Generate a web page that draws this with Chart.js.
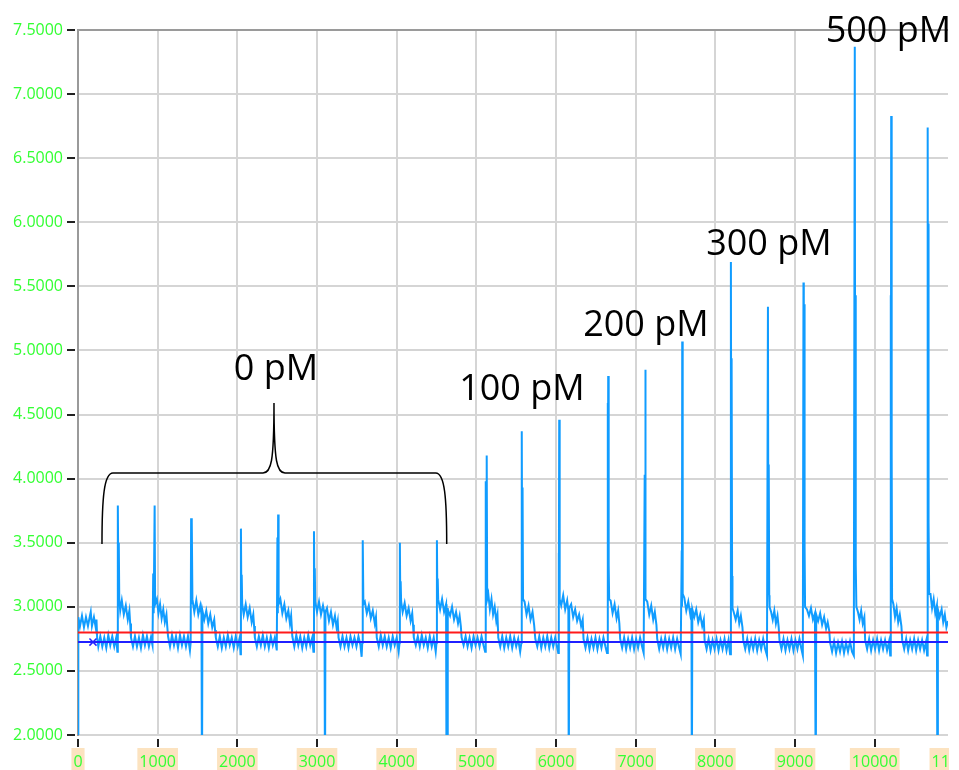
<!DOCTYPE html>
<html>
<head>
<meta charset="utf-8">
<title>Sensor response</title>
<script src="https://cdn.jsdelivr.net/npm/chart.js@4.4.0/dist/chart.umd.min.js"></script>
<style>
  html, body { margin: 0; padding: 0; background: #fff; }
  #wrap { width: 959px; height: 770px; position: relative; }
</style>
</head>
<body>
<div id="wrap"><canvas id="responseChart"></canvas></div>
<script>
// signal trace, [time, response], one block per concentration
var trace0pM = [
  [0,1.90],[4,2.92],[25,2.85],[50,2.93],[75,2.84],[100,2.92],[125,2.85],[150,2.93],[160,2.96],[175,2.85],[200,2.92],[222,2.84],[232,2.90],
  [240,2.76],[255,2.69],[280,2.77],[305,2.69],[330,2.76],[355,2.68],[380,2.78],[405,2.70],[430,2.77],[455,2.69],[480,2.76],[494,2.65],
  [498,2.72],[502,3.79],[508,3.05],[512,3.50],[518,3.06],
  [530,2.97],[550,3.05],[575,2.94],[600,3.01],[625,2.90],[645,2.97],[655,2.87],
  [665,2.76],[690,2.69],[715,2.77],[740,2.69],[765,2.76],[790,2.68],[815,2.78],[840,2.70],[865,2.77],[890,2.69],[915,2.76],[935,2.70],
  [944,3.26],[950,2.95],[962,3.79],[968,3.02],
  [990,3.06],[1010,2.95],[1030,3.02],[1050,2.91],[1070,2.98],[1090,2.88],[1110,2.94],[1120,2.85],
  [1130,2.77],[1155,2.69],[1180,2.78],[1205,2.70],[1230,2.77],[1255,2.68],[1280,2.78],[1305,2.70],[1330,2.77],[1355,2.69],[1380,2.77],[1405,2.66],
  [1414,2.72],[1420,3.69],[1426,3.02],[1430,3.66],[1436,3.06],
  [1460,2.96],[1485,3.05],[1510,2.94],[1535,3.01],[1550,2.94],[1556,1.50],[1562,2.97],[1585,2.90],[1610,2.97],[1635,2.87],[1660,2.94],[1685,2.84],[1710,2.90],[1720,2.82],
  [1730,2.76],[1755,2.69],[1780,2.77],[1805,2.68],[1830,2.76],[1855,2.69],[1880,2.78],[1905,2.70],[1930,2.76],[1955,2.68],[1980,2.77],[2005,2.69],[2030,2.76],[2040,2.63],
  [2045,3.61],[2051,3.03],[2055,3.25],[2061,3.02],
  [2080,2.94],[2105,3.02],[2130,2.92],[2155,2.99],[2180,2.88],[2200,2.94],[2210,2.85],
  [2220,2.76],[2245,2.69],[2270,2.77],[2295,2.70],[2320,2.78],[2345,2.69],[2370,2.76],[2395,2.68],[2420,2.77],[2445,2.70],[2470,2.76],[2495,2.66],
  [2503,3.54],[2508,2.95],[2512,3.72],[2518,3.02],
  [2540,3.06],[2565,2.95],[2590,3.02],[2615,2.91],[2640,2.97],[2660,2.87],[2675,2.93],
  [2690,2.77],[2715,2.69],[2740,2.78],[2765,2.70],[2790,2.77],[2815,2.68],[2840,2.76],[2865,2.69],[2890,2.78],[2915,2.70],[2940,2.76],[2955,2.65],
  [2962,3.59],[2968,3.05],[2972,3.30],[2978,3.04],
  [3000,2.96],[3025,3.04],[3050,2.94],[3075,3.01],[3094,2.95],[3100,1.50],[3106,2.96],[3125,2.99],[3150,2.89],[3175,2.96],[3200,2.86],[3225,2.93],[3245,2.84],[3260,2.89],
  [3270,2.76],[3295,2.69],[3320,2.77],[3345,2.69],[3370,2.76],[3395,2.68],[3420,2.77],[3445,2.70],[3470,2.76],[3495,2.69],[3520,2.77],[3545,2.70],[3560,2.61],
  [3568,2.72],[3572,3.06],[3576,3.52],[3582,3.02],
  [3600,3.04],[3625,2.95],[3650,3.01],[3675,2.91],[3700,2.97],[3725,2.87],[3740,2.92],
  [3750,2.76],[3775,2.69],[3800,2.78],[3825,2.70],[3850,2.77],[3875,2.69],[3900,2.76],[3925,2.68],[3950,2.77],[3975,2.70],[4000,2.76],[4025,2.65],
  [4036,2.72],[4040,3.50],[4046,3.00],[4050,3.20],[4056,3.04],
  [4075,2.96],[4100,3.03],[4125,2.93],[4150,2.99],[4175,2.89],[4195,2.95],[4205,2.86],
  [4215,2.76],[4240,2.70],[4265,2.77],[4290,2.69],[4315,2.78],[4340,2.70],[4365,2.76],[4390,2.68],[4415,2.77],[4440,2.69],[4465,2.76],[4490,2.65],
  [4500,2.72],[4505,3.52],[4511,3.05],[4515,3.22],[4521,3.06],
  [4545,2.98],[4570,3.06],[4595,2.96],[4620,3.02],[4626,1.50],[4632,2.99],[4638,1.50],[4644,2.98],[4670,2.93],[4695,3.00],[4720,2.90],[4745,2.96],[4770,2.87],[4790,2.93],[4805,2.85],
  [4815,2.76],[4840,2.70],[4865,2.77],[4890,2.69],[4915,2.76],[4940,2.68],[4965,2.77],[4990,2.70],[5015,2.76],[5040,2.69],[5065,2.77],[5090,2.70],[5110,2.65]
];

var trace100pM = [
  [5116,2.72],[5120,3.98],[5126,3.26],[5130,4.18],[5136,3.06],
  [5150,3.10],[5170,2.98],[5190,3.06],[5210,2.94],[5230,3.00],[5250,2.89],[5265,2.94],
  [5275,2.76],[5300,2.69],[5325,2.77],[5350,2.68],[5375,2.76],[5400,2.69],[5425,2.77],[5450,2.68],[5475,2.76],[5500,2.69],[5525,2.75],[5550,2.65],
  [5565,2.72],[5570,4.37],[5576,3.09],[5580,3.93],[5586,3.06],
  [5605,3.04],[5630,2.94],[5655,3.01],[5680,2.90],[5705,2.96],[5725,2.86],
  [5740,2.75],[5765,2.69],[5790,2.77],[5815,2.68],[5840,2.76],[5865,2.69],[5890,2.77],[5915,2.68],[5940,2.76],[5965,2.69],[5990,2.76],[6015,2.68],[6028,2.64],
  [6033,3.42],[6037,3.00],[6040,4.46],[6046,3.06],
  [6065,3.01],[6090,3.09],[6115,2.98],[6140,3.05],[6155,2.97],[6160,1.50],[6166,2.99],[6190,3.02],[6215,2.92],[6240,2.98],[6265,2.89],[6290,2.94],[6315,2.85],[6335,2.90],
  [6345,2.75],[6370,2.68],[6395,2.76],[6420,2.67],[6445,2.75],[6470,2.68],[6495,2.76],[6520,2.67],[6545,2.75],[6570,2.68],[6595,2.76],[6620,2.69],[6640,2.64]
];

var trace200pM = [
  [6648,4.59],[6652,3.30],[6655,4.80],[6661,3.33],[6667,3.06],
  [6685,3.05],[6710,2.95],[6735,3.02],[6760,2.91],[6780,2.97],[6795,2.87],
  [6805,2.75],[6830,2.68],[6855,2.76],[6880,2.67],[6905,2.75],[6930,2.68],[6955,2.76],[6980,2.67],[7005,2.75],[7030,2.68],[7055,2.76],[7080,2.69],[7100,2.64],
  [7113,4.03],[7117,3.20],[7120,4.85],[7126,3.06],
  [7145,3.04],[7170,2.94],[7195,3.01],[7220,2.90],[7240,2.96],[7260,2.86],
  [7270,2.75],[7295,2.67],[7320,2.75],[7345,2.68],[7370,2.76],[7395,2.67],[7420,2.75],[7445,2.68],[7470,2.76],[7495,2.67],[7520,2.75],[7545,2.68],[7565,2.63],
  [7578,3.44],[7581,3.00],[7584,5.07],[7590,3.10],
  [7610,3.07],[7635,2.97],[7660,3.04],[7685,2.94],[7700,2.99],[7705,1.50],[7711,2.98],[7735,2.92],[7760,2.98],[7785,2.88],[7810,2.94],[7835,2.85],[7855,2.90],
  [7865,2.74],[7890,2.67],[7915,2.75],[7940,2.66],[7965,2.74],[7990,2.67],[8015,2.75],[8040,2.66],[8065,2.74],[8090,2.67],[8115,2.75],[8140,2.66],[8165,2.74],[8185,2.63]
];

var trace300pM = [
  [8195,5.69],[8201,3.20],[8204,4.94],[8210,3.24],[8215,2.99],
  [8230,2.96],[8255,2.90],[8280,2.97],[8300,2.87],[8320,2.93],[8340,2.84],
  [8350,2.74],[8375,2.67],[8400,2.75],[8425,2.66],[8450,2.74],[8475,2.67],[8500,2.75],[8525,2.66],[8550,2.74],[8575,2.67],[8600,2.75],[8625,2.67],[8648,2.62],
  [8660,5.34],[8666,3.10],[8670,4.11],[8676,3.09],[8680,3.00],
  [8700,2.96],[8720,2.90],[8740,2.97],[8760,2.87],[8780,2.93],[8795,2.84],
  [8805,2.74],[8830,2.67],[8855,2.75],[8880,2.66],[8905,2.74],[8930,2.67],[8955,2.75],[8980,2.66],[9005,2.74],[9030,2.67],[9055,2.75],[9080,2.67],[9098,2.62],
  [9106,5.53],[9110,3.30],[9114,5.36],[9120,3.47],[9126,3.00],
  [9150,2.98],[9175,2.93],[9200,2.99],[9225,2.90],[9250,2.95],[9260,1.50],[9266,2.94],[9290,2.89],[9315,2.95],[9340,2.86],[9365,2.92],[9390,2.83],[9410,2.88],[9430,2.81],
  [9440,2.72],[9465,2.65],[9490,2.73],[9515,2.64],[9540,2.72],[9565,2.65],[9590,2.73],[9615,2.64],[9640,2.72],[9665,2.65],[9690,2.73],[9715,2.65],[9738,2.62]
];

var trace500pM = [
  [9750,7.37],[9756,3.30],[9759,5.43],[9765,3.33],[9770,3.00],
  [9790,2.96],[9810,2.90],[9830,2.97],[9850,2.87],[9870,2.92],
  [9880,2.74],[9905,2.67],[9930,2.75],[9955,2.66],[9980,2.74],[10005,2.67],[10030,2.75],[10055,2.66],[10080,2.74],[10105,2.67],[10130,2.74],[10155,2.66],[10180,2.73],[10195,2.62],
  [10200,5.43],[10204,3.20],[10207,6.83],[10213,4.21],[10218,3.06],
  [10235,3.02],[10255,2.92],[10275,2.99],[10295,2.88],[10315,2.94],[10335,2.85],
  [10345,2.74],[10370,2.67],[10395,2.75],[10420,2.66],[10445,2.74],[10470,2.67],[10495,2.75],[10520,2.66],[10545,2.74],[10570,2.67],[10595,2.74],[10620,2.66],[10645,2.73],[10658,2.62],
  [10665,6.74],[10670,3.50],[10673,5.99],[10679,3.66],[10684,3.10],
  [10700,3.10],[10720,2.99],[10740,3.06],[10760,2.95],[10780,3.01],[10787,1.50],[10793,2.98],[10815,2.92],[10840,2.98],[10860,2.88],[10880,2.94],[10900,2.84],[10920,2.89]
];

// cursor levels
var upperLevel = [[0, 2.80], [10920, 2.80]];
var lowerLevel = [[0, 2.725], [188, 2.725], [10920, 2.725]];

var concentrations = ['0 pM', '100 pM', '200 pM', '300 pM', '500 pM'];
var xTickValues = [0, 1000, 2000, 3000, 4000, 5000, 6000, 7000, 8000, 9000, 10000, 11000];

// where each concentration label sits (data coords, text baseline)
var labelAnchors = [[2485, 4.77], [5572, 4.615], [7128, 5.115], [8672, 5.745], [10172, 7.41]];

var X_MAX = 10920;
var GREEN = '#33ff33';
var GRID = '#d5d5d5';
var FRAME = '#9a9a9a';

var notesPlugin = {
  id: 'notes',
  afterDraw: function(chart) {
    var ctx = chart.ctx;
    var x = chart.scales.x, y = chart.scales.y;
    var area = chart.chartArea;
    ctx.save();

    // the last tick label runs past the plot edge; cut it off there
    ctx.fillStyle = '#fff';
    ctx.fillRect(area.right + 1, area.bottom + 2, chart.width - area.right, chart.height - area.bottom);

    // brace over the blank injections
    var l = x.getPixelForValue(301), r = x.getPixelForValue(4628), m = x.getPixelForValue(2460);
    var b = y.getPixelForValue(3.49), h = y.getPixelForValue(4.044), t = y.getPixelForValue(4.59);
    ctx.strokeStyle = '#000';
    ctx.lineWidth = 1.5;
    ctx.beginPath();
    ctx.moveTo(l, b);
    ctx.bezierCurveTo(l, h + 25, l + 2, h, l + 11, h);
    ctx.lineTo(m - 11, h);
    ctx.bezierCurveTo(m - 3, h, m, h - 10, m, t);
    ctx.bezierCurveTo(m, h - 10, m + 3, h, m + 11, h);
    ctx.lineTo(r - 11, h);
    ctx.bezierCurveTo(r - 2, h, r, h + 25, r, b);
    ctx.stroke();

    ctx.fillStyle = '#000';
    ctx.font = '36px "Open Sans"';
    ctx.textAlign = 'center';
    ctx.textBaseline = 'alphabetic';
    for (var i = 0; i < concentrations.length; i++) {
      ctx.fillText(concentrations[i],
        x.getPixelForValue(labelAnchors[i][0]),
        y.getPixelForValue(labelAnchors[i][1]));
    }
    ctx.restore();
  }
};

var ctx = document.getElementById('responseChart');

var data = {
  datasets: [
    {
      data : upperLevel,
      borderColor : '#ff1a1a',
      borderWidth : 2,
      pointRadius : 0
    },
    {
      data : lowerLevel,
      borderColor : '#2020ff',
      borderWidth : 2,
      pointStyle : 'crossRot',
      pointBorderColor : '#2020ff',
      pointBorderWidth : 1.5,
      pointRadius : function(c) { return c.dataIndex === 1 ? 5 : 0; }
    },
    {
      data : trace0pM.concat(trace100pM, trace200pM, trace300pM, trace500pM),
      borderColor : '#109cff',
      borderWidth : 2,
      pointRadius : 0,
      tension : 0
    }
  ]
};

var options = {
  responsive : true,
  maintainAspectRatio : false,
  animation : false,
  events : [],
  layout : { padding : { top : 30, right : 11, bottom : 0, left : 0 } },
  plugins : {
    legend : { display : false },
    tooltip : { enabled : false }
  },
  scales : {
    x : {
      type : 'linear',
      min : 0,
      max : X_MAX,
      border : { display : false },
      grid : {
        lineWidth : 2,
        color : function(c) {
          if (!c.tick || c.tick.value > X_MAX) return 'rgba(0,0,0,0)';
          return c.tick.value === 0 ? FRAME : GRID;
        },
        tickColor : function(c) {
          return c.tick && c.tick.value > X_MAX ? 'rgba(0,0,0,0)' : '#222';
        },
        tickLength : 12,
        tickWidth : 2,
        tickBorderDash : [8, 4],
        tickBorderDashOffset : 8
      },
      afterBuildTicks : function(scale) {
        scale.ticks = xTickValues.map(function(v) { return { value : v }; });
      },
      afterFit : function(scale) {
        scale.height = 35;
        scale.paddingLeft = 0;
        scale.paddingRight = 0;
      },
      ticks : {
        autoSkip : false,
        maxRotation : 0,
        includeBounds : false,
        padding : 6,
        color : GREEN,
        font : { family : 'Open Sans', size : 16 },
        showLabelBackdrop : true,
        backdropColor : '#fce3c0',
        backdropPadding : { top : 5, bottom : 4, left : 2, right : 2 },
        callback : function(v) { return String(v); }
      }
    },
    y : {
      min : 2,
      max : 7.5,
      border : { display : true, color : FRAME, width : 2 },
      grid : {
        lineWidth : 2,
        color : function(c) { return c.tick && c.tick.value === 7.5 ? FRAME : GRID; },
        tickColor : '#222',
        tickLength : 11,
        tickWidth : 2,
        tickBorderDash : [8, 3]
      },
      afterFit : function(scale) { scale.width = 78; },
      ticks : {
        stepSize : 0.5,
        padding : 4,
        color : GREEN,
        font : { family : 'Open Sans', size : 16 },
        callback : function(v) { return v.toFixed(4); }
      }
    }
  }
};

var chart = new Chart(ctx, {
  type : 'line',
  data : data,
  options : options,
  plugins : [notesPlugin]
});
</script>
</body>
</html>
